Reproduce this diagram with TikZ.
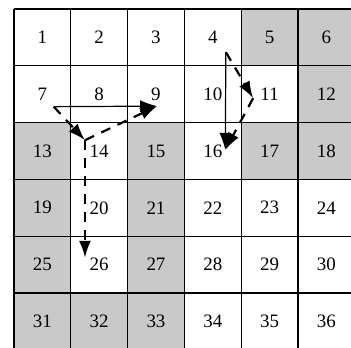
\documentclass[tikz,border=0pt]{standalone}
\usepackage{fontspec}
\setmainfont{Liberation Serif}
\usetikzlibrary{arrows.meta}
\tikzset{
  cellfill/.style={fill=gray!42},
  gridline/.style={line width=0.7pt},
  numtext/.style={font=\fontsize{9.5}{11}\selectfont},
  trail/.style={line width=1.1pt, dash pattern=on 5pt off 4pt, -{Latex[length=8.5pt,width=6pt]}},
  direct/.style={line width=0.6pt, -{Latex[length=8.5pt,width=6pt]}}
}
\begin{document}
\begin{tikzpicture}
    \useasboundingbox (-0.246,0.158) rectangle (5.933,-5.968);
    \clip (-0.246,0.158) rectangle (5.933,-5.968);
    % shaded cells
    \foreach \n in {5,6,12,13,15,17,18,19,21,25,27,31,32,33} {
        \pgfmathtruncatemacro\row{(\n-1)/6}
        \pgfmathtruncatemacro\col{\n-1-6*\row}
        \fill[cellfill] (\col,-\row) rectangle ++(1,-1);
    }
    \draw[gridline] (0,-6) grid (6,0);
    % cell numbers
    \foreach \n in {1,...,36} {
        \pgfmathtruncatemacro\row{(\n-1)/6}
        \pgfmathtruncatemacro\col{\n-1-6*\row}
        \node[numtext] (c\n) at (\col+0.5,-\row-0.5) {\n};
    }
    % path points
    \coordinate (s7) at (0.70,-1.72);
    \coordinate (j14) at (1.25,-2.31);
    \coordinate (e9) at (2.52,-1.71);
    \coordinate (e26) at (1.25,-4.38);
    \coordinate (s4) at (3.73,-0.76);
    \coordinate (m11) at (4.21,-1.57);
    \coordinate (e16) at (3.72,-2.48);
    \draw[direct] (s7) -- (e9);
    \draw[trail] (s7) -- (j14);
    \draw[trail] (j14) -- (e9);
    \draw[trail] (j14) -- (e26);
    \draw[direct] (s4) -- (e16);
    \draw[trail] (s4) -- (m11);
    \draw[trail] (m11) -- (e16);
\end{tikzpicture}
\end{document}
